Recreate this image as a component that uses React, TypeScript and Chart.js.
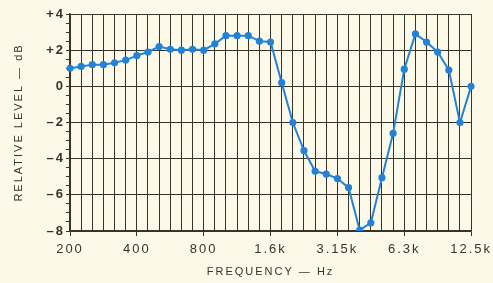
import React, { useEffect, useRef } from "react";
import { Chart, registerables } from "chart.js";

Chart.register(...registerables);

const frequencies = [
  "200", "224", "250", "280", "315", "355", "400", "450", "500", "560", "630", "710",
  "800", "900", "1k", "1.12k", "1.25k", "1.4k", "1.6k", "1.8k", "2k", "2.24k", "2.5k", "2.8k",
  "3.15k", "3.55k", "4k", "4.5k", "5k", "5.6k", "6.3k", "7.1k", "8k", "9k", "10k", "11.2k", "12.5k",
];
const tickLabels = ["200", "400", "800", "1.6k", "3.15k", "6.3k", "12.5k"];
const levels = [
  1.0, 1.1, 1.2, 1.2, 1.3, 1.45, 1.7, 1.9, 2.2, 2.05, 2.0, 2.05,
  2.0, 2.35, 2.8, 2.8, 2.8, 2.5, 2.45, 0.2, -2.0, -3.55, -4.7, -4.85,
  -5.1, -5.6, -7.95, -7.55, -5.05, -2.6, 0.95, 2.9, 2.45, 1.9, 0.9, -2.0, 0.0,
];
const yMin = -8;
const yMax = 4;

const INK = "#35352c";
const BG = "#fcf9e8";
const BLUE = "#2382d6";
const FONT = "Liberation Sans, Arial, sans-serif";

export default function App() {
  const ref = useRef<HTMLCanvasElement | null>(null);

  useEffect(() => {
    document.body.style.margin = "0";
    document.body.style.background = BG;
    const canvas = ref.current;
    if (!canvas) return;
    const bgPlugin = {
      id: "bg",
      beforeDraw(chart: any) {
        const c = chart.ctx;
        c.save();
        c.fillStyle = BG;
        c.fillRect(0, 0, chart.width, chart.height);
        c.restore();
        (c as any).letterSpacing = "2px";
      },
      afterDraw(chart: any) {
        (chart.ctx as any).letterSpacing = "0px";
      },
    };
    const chart = new Chart(canvas, {
      type: "line",
      data: {
        labels: frequencies,
        datasets: [
          {
            data: levels,
            borderColor: BLUE,
            backgroundColor: BLUE,
            borderWidth: 2,
            pointRadius: 3.6,
            pointHoverRadius: 3.6,
            pointBorderWidth: 0,
            tension: 0,
          },
        ],
      },
      options: {
        animation: false,
        responsive: false,
        events: [],
        layout: { padding: { top: 14, right: 20, left: 0, bottom: 0 } },
        plugins: { legend: { display: false }, tooltip: { enabled: false } },
        scales: {
          x: {
            type: "category",
            offset: false,
            afterFit(scale: any) {
              scale.height = 283 - 14 - 217;
            },
            grid: {
              color: INK,
              lineWidth: 1,
              tickLength: 5,
              tickColor: (ctx: any) =>
                tickLabels.includes(frequencies[ctx.index]) ? INK : "rgba(0,0,0,0)",
            },
            border: { color: INK, width: 1.5 },
            ticks: {
              autoSkip: false,
              maxRotation: 0,
              padding: 6,
              color: INK,
              font: { family: FONT, size: 13 },
              callback: (_v: any, i: number) =>
                tickLabels.includes(frequencies[i]) ? frequencies[i] : "",
            },
            title: {
              display: true,
              text: "FREQUENCY — Hz",
              color: INK,
              font: { family: FONT, size: 11 },
              padding: { top: 0, bottom: 4 },
            },
          },
          y: {
            min: yMin,
            max: yMax,
            afterFit(scale: any) {
              scale.width = 70;
            },
            grid: {
              color: (ctx: any) =>
                ctx.tick && Math.abs(ctx.tick.value % 2) < 1e-9 ? INK : "rgba(0,0,0,0)",
              lineWidth: 1,
              tickLength: 4,
              tickColor: INK,
            },
            border: { color: INK, width: 1.5 },
            ticks: {
              stepSize: 0.5,
              autoSkip: false,
              padding: 1,
              color: INK,
              font: { family: FONT, size: 13, weight: "bold" },
              callback: (v: any) => {
                const n = Number(v);
                if (Math.abs(n % 2) > 1e-9) return "";
                if (n > 0) return "+" + n;
                if (n < 0) return "–" + Math.abs(n);
                return "0";
              },
            },
            title: {
              display: true,
              text: "RELATIVE LEVEL — dB",
              color: INK,
              font: { family: FONT, size: 11 },
              padding: { top: 12, bottom: 0 },
            },
          },
        },
      },
      plugins: [bgPlugin],
    } as any);
    return () => chart.destroy();
  }, []);

  return (
    <div style={{ position: "fixed", left: 0, top: 0, width: 493, height: 283, background: BG }}>
      <canvas ref={ref} width={493} height={283} style={{ display: "block", width: 493, height: 283 }} />
    </div>
  );
}
